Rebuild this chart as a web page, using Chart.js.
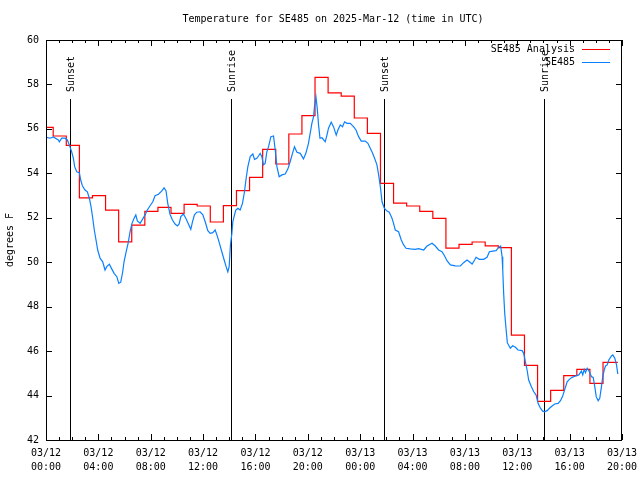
<!DOCTYPE html>
<html>
<head>
<meta charset="utf-8">
<script src="https://cdn.jsdelivr.net/npm/chart.js@4.4.1/dist/chart.umd.min.js"></script>
<style>
  html, body { margin: 0; padding: 0; background: #ffffff; }
  #wrap { width: 640px; height: 480px; }
</style>
</head>
<body>
<div id="wrap"><canvas id="c" width="640" height="480"></canvas></div>
<script>
// ---------- DATA ----------
const chartTitle = 'Temperature for SE485 on 2025-Mar-12 (time in UTC)';
const yAxisTitle = 'degrees F';
const seriesNames = ['SE485 Analysis', 'SE485'];

// x tick labels every 4 hours (hours since 03/12 00:00 UTC)
const xTickLabels = [
  ['03/12', '00:00'], ['03/12', '04:00'], ['03/12', '08:00'], ['03/12', '12:00'],
  ['03/12', '16:00'], ['03/12', '20:00'], ['03/13', '00:00'], ['03/13', '04:00'],
  ['03/13', '08:00'], ['03/13', '12:00'], ['03/13', '16:00'], ['03/13', '20:00']
];
const yTickValues = [42, 44, 46, 48, 50, 52, 54, 56, 58, 60];

// Sunrise / sunset markers (hours since start)
const sunEventNames = ['Sunset', 'Sunrise', 'Sunset', 'Sunrise'];
const sunEventHours = [1.88, 14.2, 25.87, 38.1];

// Analysis (stepped): start time of each step and its value
const analysisHours = [0, 0.55, 1.55, 2.55, 3.55, 4.55, 5.55, 6.55, 7.55, 8.55,
  9.55, 10.55, 11.55, 12.55, 13.55, 14.55, 15.55, 16.55, 17.55, 18.55,
  19.55, 20.55, 21.55, 22.55, 23.55, 24.55, 25.55, 26.55, 27.55, 28.55,
  29.55, 30.55, 31.55, 32.55, 33.55, 34.55, 35.55, 36.55, 37.55, 38.55,
  39.55, 40.55, 41.55, 42.55, 43.68];
const analysisTemps = [56.07, 55.68, 55.26, 52.9, 53.0, 52.34, 50.92, 51.67, 52.29, 52.47,
  52.2, 52.6, 52.53, 51.81, 52.55, 53.22, 53.82, 55.08, 54.42, 55.77,
  56.6, 58.32, 57.62, 57.47, 56.49, 55.8, 53.55, 52.66, 52.53, 52.29,
  51.97, 50.63, 50.8, 50.91, 50.74, 50.66, 46.72, 45.36, 43.74, 44.23,
  44.9, 45.18, 44.55, 45.49, 45.49];

// Observations
const obsHours = [0.05, 0.31, 0.56, 0.94, 1.02, 1.2, 1.45, 1.63, 1.78, 1.96,
  2.09, 2.19, 2.35, 2.55, 2.65, 2.78, 2.98, 3.16, 3.31, 3.44,
  3.57, 3.69, 3.82, 3.95, 4.13, 4.33, 4.51, 4.64, 4.84, 5.02,
  5.2, 5.41, 5.56, 5.71, 5.86, 5.96, 6.12, 6.27, 6.42, 6.57,
  6.73, 6.86, 6.98, 7.19, 7.39, 7.57, 7.74, 7.95, 8.16, 8.33,
  8.59, 8.85, 9.02, 9.17, 9.3, 9.48, 9.66, 9.86, 10.04, 10.17,
  10.3, 10.5, 10.68, 10.88, 11.06, 11.19, 11.34, 11.52, 11.77, 11.98,
  12.16, 12.36, 12.54, 12.74, 12.92, 13.1, 13.25, 13.43, 13.61, 13.76,
  13.89, 13.99, 14.09, 14.2, 14.27, 14.4, 14.5, 14.66, 14.83, 15.01,
  15.16, 15.29, 15.42, 15.6, 15.8, 15.93, 16.11, 16.23, 16.36, 16.49,
  16.61, 16.74, 16.87, 17.0, 17.18, 17.38, 17.51, 17.64, 17.81, 18.02,
  18.27, 18.48, 18.65, 18.83, 18.98, 19.17, 19.42, 19.67, 19.85, 20.05,
  20.18, 20.31, 20.44, 20.51, 20.62, 20.72, 20.82, 20.93, 21.08, 21.33,
  21.46, 21.58, 21.79, 21.96, 22.17, 22.3, 22.48, 22.65, 22.81, 22.99,
  23.24, 23.49, 23.68, 23.88, 24.08, 24.39, 24.59, 24.77, 24.95, 25.1,
  25.28, 25.41, 25.54, 25.67, 25.84, 26.05, 26.22, 26.43, 26.55, 26.68,
  26.93, 27.14, 27.32, 27.5, 27.83, 28.21, 28.46, 28.67, 28.85, 29.11,
  29.49, 29.74, 29.99, 30.25, 30.45, 30.63, 30.89, 31.27, 31.65, 31.9,
  32.16, 32.34, 32.55, 32.74, 32.85, 33.1, 33.43, 33.69, 33.87, 34.12,
  34.38, 34.58, 34.73, 34.84, 34.89, 34.96, 35.04, 35.15, 35.24, 35.47,
  35.65, 35.86, 36.06, 36.37, 36.49, 36.62, 36.75, 36.87, 37.08, 37.26,
  37.44, 37.59, 37.77, 37.94, 38.1, 38.28, 38.46, 38.66, 38.86, 39.12,
  39.3, 39.47, 39.63, 39.81, 39.98, 40.19, 40.44, 40.7, 40.9, 41.0,
  41.11, 41.21, 41.34, 41.51, 41.67, 41.8, 41.92, 42.03, 42.18, 42.3,
  42.43, 42.53, 42.64, 42.74, 42.87, 42.99, 43.2, 43.3, 43.45, 43.58,
  43.68];
const obsTemps = [55.62, 55.58, 55.64, 55.5, 55.42, 55.58, 55.58, 55.5, 55.28, 54.97,
  54.68, 54.3, 54.07, 54.03, 53.7, 53.44, 53.25, 53.17, 52.88, 52.5,
  51.98, 51.45, 51.0, 50.55, 50.18, 50.02, 49.65, 49.8, 49.91, 49.7,
  49.5, 49.35, 49.05, 49.1, 49.57, 50.02, 50.47, 50.85, 51.37, 51.75,
  51.98, 52.13, 51.86, 51.75, 51.95, 52.13, 52.35, 52.54, 52.72, 52.99,
  53.06, 53.21, 53.35, 53.21, 52.65, 52.15, 51.9, 51.72, 51.63, 51.72,
  52.05, 52.17, 51.98, 51.72, 51.48, 51.82, 52.13, 52.25, 52.27, 52.13,
  51.82, 51.42, 51.3, 51.33, 51.45, 51.15, 50.85, 50.47, 50.1, 49.8,
  49.57, 49.8, 50.78, 51.3, 51.82, 52.13, 52.35, 52.43, 52.35, 52.65,
  53.17, 53.78, 54.3, 54.75, 54.87, 54.63, 54.68, 54.78, 54.9, 54.75,
  54.38, 54.45, 54.97, 55.2, 55.65, 55.68, 55.05, 54.3, 53.85, 53.93,
  53.97, 54.2, 54.52, 54.9, 55.2, 54.95, 54.9, 54.65, 54.9, 55.35,
  55.8, 56.25, 56.55, 57.0, 57.45, 56.93, 56.18, 55.58, 55.6, 55.42,
  55.72, 56.03, 56.3, 56.1, 55.72, 55.95, 56.18, 56.1, 56.32, 56.25,
  56.25, 56.1, 55.95, 55.65, 55.45, 55.45, 55.35, 55.13, 54.9, 54.68,
  54.38, 53.93, 53.4, 52.72, 52.43, 52.3, 52.25, 51.98, 51.75, 51.45,
  51.37, 51.0, 50.78, 50.63, 50.6, 50.58, 50.61, 50.58, 50.55, 50.73,
  50.85, 50.73, 50.55, 50.47, 50.28, 50.07, 49.88, 49.84, 49.83, 49.98,
  50.1, 50.02, 49.92, 50.1, 50.22, 50.13, 50.13, 50.22, 50.47, 50.5,
  50.52, 50.67, 50.73, 50.25, 49.65, 48.6, 47.7, 46.95, 46.38, 46.13,
  46.24, 46.17, 46.05, 46.02, 45.9, 45.52, 45.15, 44.7, 44.4, 44.17,
  44.02, 43.65, 43.43, 43.3, 43.27, 43.32, 43.43, 43.53, 43.62, 43.65,
  43.77, 43.98, 44.28, 44.62, 44.73, 44.82, 44.88, 44.93, 45.1, 44.93,
  45.18, 45.03, 45.23, 45.07, 44.85, 44.82, 44.4, 43.95, 43.77, 43.88,
  44.4, 44.85, 45.15, 45.33, 45.38, 45.6, 45.78, 45.83, 45.68, 45.38,
  44.97];

// ---------- CHART ----------
const FONT = 'DejaVu Sans Mono';
Chart.defaults.font.family = FONT;
Chart.defaults.font.size = 10;
Chart.defaults.color = '#000000';

const toXY = (xs, ys) => xs.map((x, i) => ({ x: x, y: ys[i] }));

const decorPlugin = {
  id: 'decor',
  beforeDatasetsDraw(chart) {
    const ctx = chart.ctx;
    const xs = chart.scales.x;
    const a = chart.chartArea;
    ctx.save();
    ctx.strokeStyle = '#000000';
    ctx.lineWidth = 1;
    ctx.fillStyle = '#000000';
    ctx.font = '10px ' + FONT;
    sunEventHours.forEach((h, i) => {
      const px = Math.floor(xs.getPixelForValue(h)) + 0.5;
      ctx.beginPath();
      ctx.moveTo(px, 99);
      ctx.lineTo(px, a.bottom);
      ctx.stroke();
      ctx.save();
      ctx.translate(px + 1, 92);
      ctx.rotate(-Math.PI / 2);
      ctx.textAlign = 'left';
      ctx.textBaseline = 'middle';
      ctx.fillText(sunEventNames[i], 0, 0);
      ctx.restore();
    });
    ctx.restore();
  },
  afterDraw(chart) {
    const ctx = chart.ctx;
    const xs = chart.scales.x, ys = chart.scales.y;
    const a = chart.chartArea;
    ctx.save();
    ctx.strokeStyle = '#000000';
    ctx.lineWidth = 1;
    // border
    ctx.strokeRect(a.left + 0.5, a.top + 0.5, a.right - a.left - 1, a.bottom - a.top);
    // x ticks (major every 4 h, minor every hour), mirrored on top
    ctx.beginPath();
    for (let h = xs.min; h <= xs.max; h++) {
      const px = Math.round(xs.getPixelForValue(h)) + 0.5;
      const len = (h % 4 === 0) ? 6 : 3;
      ctx.moveTo(px, a.bottom); ctx.lineTo(px, a.bottom - len);
      ctx.moveTo(px, a.top); ctx.lineTo(px, a.top + len);
    }
    // y ticks mirrored on right
    yTickValues.forEach(v => {
      const py = Math.round(ys.getPixelForValue(v)) + 0.5;
      ctx.moveTo(a.left, py); ctx.lineTo(a.left + 6, py);
      ctx.moveTo(a.right, py); ctx.lineTo(a.right - 6, py);
    });
    ctx.stroke();
    // title
    ctx.fillStyle = '#000000';
    ctx.font = '10px ' + FONT;
    ctx.textAlign = 'center';
    ctx.textBaseline = 'middle';
    ctx.fillText(chartTitle, (a.left + a.right) / 2 - 1, 19);
    // legend
    ctx.textAlign = 'right';
    const legendY = [49.5, 62.5];
    chart.data.datasets.forEach((ds, i) => {
      ctx.fillStyle = '#000000';
      ctx.fillText(ds.label, 575, legendY[i]);
      ctx.strokeStyle = ds.borderColor;
      ctx.beginPath();
      ctx.moveTo(582, legendY[i]);
      ctx.lineTo(610, legendY[i]);
      ctx.stroke();
    });
    ctx.restore();
  }
};

new Chart(document.getElementById('c'), {
  type: 'line',
  data: {
    datasets: [
      {
        label: seriesNames[0],
        data: toXY(analysisHours, analysisTemps),
        borderColor: '#ff0000',
        borderWidth: 1.2,
        stepped: 'before',
        pointRadius: 0,
        fill: false,
        order: 2
      },
      {
        label: seriesNames[1],
        data: toXY(obsHours, obsTemps),
        borderColor: '#0a80ff',
        borderWidth: 1.2,
        pointRadius: 0,
        tension: 0,
        fill: false,
        order: 1
      }
    ]
  },
  options: {
    responsive: false,
    animation: false,
    devicePixelRatio: 1,
    layout: { padding: { top: 40, right: 18, left: 0, bottom: 0 } },
    plugins: {
      legend: { display: false },
      title: { display: false },
      tooltip: { enabled: false }
    },
    scales: {
      x: {
        type: 'linear',
        min: 0,
        max: 44,
        grid: { display: false, drawTicks: false },
        border: { display: false },
        ticks: {
          stepSize: 4,
          autoSkip: false,
          maxRotation: 0,
          padding: 6,
          font: { family: FONT, size: 10, lineHeight: 1.4 },
          color: '#000000',
          callback: (v) => xTickLabels[Math.round(v / 4)]
        },
        afterFit: (s) => { s.height = 40; s.paddingLeft = 0; s.paddingRight = 0; }
      },
      y: {
        min: 42,
        max: 60,
        grid: { display: false, drawTicks: false },
        border: { display: false },
        ticks: {
          stepSize: 2,
          padding: 7,
          font: { family: FONT, size: 10 },
          color: '#000000'
        },
        title: {
          display: true,
          text: yAxisTitle,
          font: { family: FONT, size: 10 },
          color: '#000000',
          padding: { top: 4, bottom: 0 }
        },
        afterFit: (s) => { s.width = 46; s.paddingTop = 0; s.paddingBottom = 0; }
      }
    }
  },
  plugins: [decorPlugin]
});
</script>
</body>
</html>
